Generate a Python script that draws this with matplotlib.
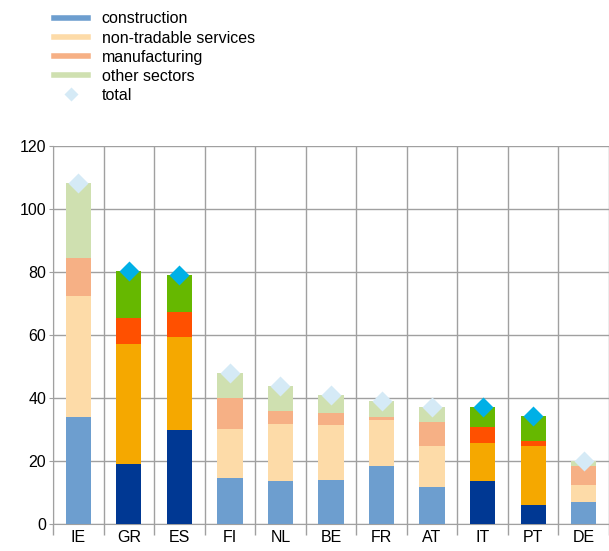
import matplotlib.pyplot as plt
from matplotlib.lines import Line2D
import numpy as np

plt.rcParams['font.family'] = ['Liberation Sans', 'DejaVu Sans']

countries = ['IE', 'GR', 'ES', 'FI', 'NL', 'BE', 'FR', 'AT', 'IT', 'PT', 'DE']
# cumulative tops
construction = [33.9, 19.1, 29.7, 14.5, 13.7, 14.1, 18.5, 11.8, 13.7, 6.1, 7.0]
nontradable_top = [72.5, 57.2, 59.4, 30.3, 31.6, 31.3, 32.9, 24.9, 25.8, 24.9, 12.4]
manufacturing_top = [84.3, 65.4, 67.3, 39.9, 36.0, 35.2, 34.1, 32.5, 30.9, 26.3, 18.5]
other_top = [108.1, 80.2, 79.1, 47.8, 43.7, 40.8, 39.2, 37.3, 37.3, 34.4, 20.1]
total = [108.1, 80.2, 79.1, 47.8, 43.7, 40.8, 39.2, 37.3, 37.3, 34.4, 20.1]
highlight = ['GR', 'ES', 'IT', 'PT']

light = ['#6d9ecf', '#fddba8', '#f6b085', '#cfe0b0', '#d5eaf6']
dark = ['#003893', '#f5a800', '#ff5000', '#66b800', '#00b0e6']

fig = plt.figure(figsize=(6.09, 5.51), dpi=100)
ax = fig.add_axes([53 / 609, 27 / 551, 1 - 53 / 609, (524 - 146) / 551])

x = np.arange(len(countries))
bottoms = [np.zeros(len(x)), np.array(construction), np.array(nontradable_top), np.array(manufacturing_top)]
tops = [np.array(construction), np.array(nontradable_top), np.array(manufacturing_top), np.array(other_top)]
for i, c in enumerate(countries):
    cols = dark if c in highlight else light
    for k in range(4):
        ax.bar(x[i], tops[k][i] - bottoms[k][i], bottom=bottoms[k][i], width=0.5,
               color=cols[k], zorder=3)
    ax.plot(x[i], total[i], marker='D', ms=10.5, color=cols[4], mec='none', zorder=4, clip_on=False)

ax.set_ylim(0, 120)
ax.set_yticks(range(0, 121, 20))
ax.set_xlim(-0.5, 10.35)
ax.set_xticks(x)
ax.set_xticklabels(countries, fontsize=11.5)
ax.set_xticks(np.arange(-0.5, 11, 1), minor=True)
ax.tick_params(axis='x', which='major', length=0, pad=4)
ax.tick_params(axis='x', which='minor', length=8, color='#a0a0a0', width=1)
ax.tick_params(axis='y', length=3, color='#a0a0a0', labelsize=11.5, pad=2)
ax.grid(axis='y', color='#a0a0a0', lw=1, zorder=0)
ax.grid(axis='x', which='minor', color='#a0a0a0', lw=1, zorder=0)
for s in ['top', 'right']:
    ax.spines[s].set_visible(False)
for s in ['left', 'bottom']:
    ax.spines[s].set_color('#a0a0a0')

handles = [Line2D([], [], color=light[0], lw=4),
           Line2D([], [], color=light[1], lw=4),
           Line2D([], [], color=light[2], lw=4),
           Line2D([], [], color=light[3], lw=4),
           Line2D([], [], color=light[4], lw=0, marker='D', ms=7, mec='none')]
labels = ['construction', 'non-tradable services', 'manufacturing', 'other sectors', 'total']
fig.legend(handles, labels, loc='upper left', bbox_to_anchor=(48 / 609, 1 - 5 / 551),
           frameon=False, fontsize=11.5, handlelength=2.1, handletextpad=0.85,
           labelspacing=0.26, borderaxespad=0)

fig.savefig('out.png', dpi=100)
